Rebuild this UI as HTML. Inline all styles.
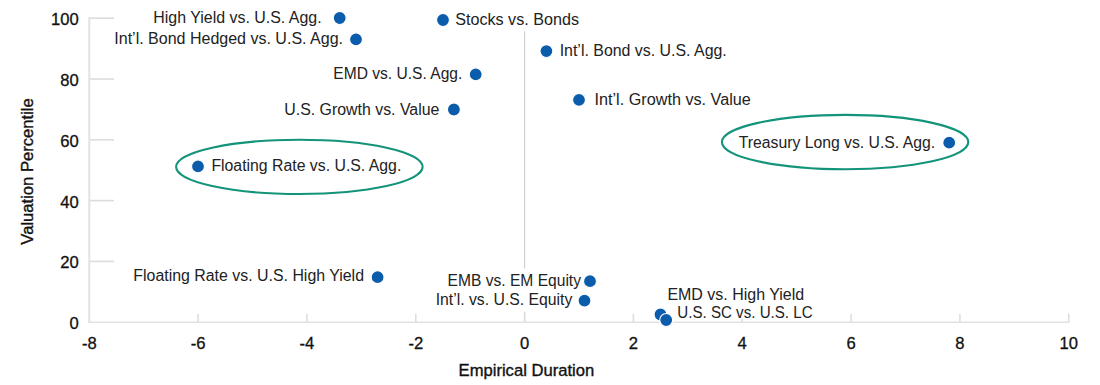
<!DOCTYPE html>
<html><head><meta charset="utf-8"><style>
html,body{margin:0;padding:0;background:#fff;width:1100px;height:385px;overflow:hidden}
svg{display:block}
text{font-family:"Liberation Sans",sans-serif}
</style></head><body>
<svg width="1100" height="385" viewBox="0 0 1100 385">

<line x1="524.6" y1="31.2" x2="524.6" y2="268.6" stroke="#d0d0d2" stroke-width="1.2"/>
<line x1="524.6" y1="311.8" x2="524.6" y2="322.2" stroke="#d0d0d2" stroke-width="1.2"/>
<line x1="89.3" y1="261.4" x2="114" y2="261.4" stroke="#dcdcdf" stroke-width="1.6"/>
<line x1="89.3" y1="200.6" x2="114" y2="200.6" stroke="#dcdcdf" stroke-width="1.6"/>
<line x1="89.3" y1="139.8" x2="114" y2="139.8" stroke="#dcdcdf" stroke-width="1.6"/>
<line x1="89.3" y1="79.0" x2="114" y2="79.0" stroke="#dcdcdf" stroke-width="1.6"/>
<line x1="89.3" y1="18.2" x2="114" y2="18.2" stroke="#dcdcdf" stroke-width="1.6"/>
<line x1="198.1" y1="322.2" x2="198.1" y2="313.8" stroke="#dcdcdf" stroke-width="1.5"/>
<line x1="306.9" y1="322.2" x2="306.9" y2="313.8" stroke="#dcdcdf" stroke-width="1.5"/>
<line x1="415.8" y1="322.2" x2="415.8" y2="313.8" stroke="#dcdcdf" stroke-width="1.5"/>
<line x1="524.6" y1="322.2" x2="524.6" y2="313.8" stroke="#dcdcdf" stroke-width="1.5"/>
<line x1="633.4" y1="322.2" x2="633.4" y2="313.8" stroke="#dcdcdf" stroke-width="1.5"/>
<line x1="742.2" y1="322.2" x2="742.2" y2="318.7" stroke="#dcdcdf" stroke-width="1.5"/>
<line x1="851.1" y1="322.2" x2="851.1" y2="313.8" stroke="#dcdcdf" stroke-width="1.5"/>
<line x1="959.9" y1="322.2" x2="959.9" y2="313.8" stroke="#dcdcdf" stroke-width="1.5"/>
<line x1="1068.7" y1="322.2" x2="1068.7" y2="313.8" stroke="#dcdcdf" stroke-width="1.5"/>
<line x1="89.3" y1="17.3" x2="89.3" y2="323.09999999999997" stroke="#e2e2e5" stroke-width="2"/>
<line x1="88.39999999999999" y1="322.3" x2="1069.6000000000001" y2="322.3" stroke="#e2e2e5" stroke-width="1.6"/>
<text id="l0" x="153.30" y="22.95" font-size="16" fill="#222222" textLength="168.30" lengthAdjust="spacingAndGlyphs">High Yield vs. U.S. Agg.</text>
<text id="l1" x="455.20" y="24.75" font-size="16" fill="#222222" textLength="123.80" lengthAdjust="spacingAndGlyphs">Stocks vs. Bonds</text>
<text id="l2" x="114.30" y="43.85" font-size="16" fill="#222222" textLength="228.70" lengthAdjust="spacingAndGlyphs">Int’l. Bond Hedged vs. U.S. Agg.</text>
<text id="l3" x="559.70" y="56.25" font-size="16" fill="#222222" textLength="167.10" lengthAdjust="spacingAndGlyphs">Int’l. Bond vs. U.S. Agg.</text>
<text id="l4" x="333.30" y="78.85" font-size="16" fill="#222222" textLength="129.00" lengthAdjust="spacingAndGlyphs">EMD vs. U.S. Agg.</text>
<text id="l5" x="594.50" y="104.65" font-size="16" fill="#222222" textLength="156.30" lengthAdjust="spacingAndGlyphs">Int’l. Growth vs. Value</text>
<text id="l6" x="284.30" y="114.85" font-size="16" fill="#222222" textLength="155.10" lengthAdjust="spacingAndGlyphs">U.S. Growth vs. Value</text>
<text id="l7" x="738.80" y="147.75" font-size="16" fill="#222222" textLength="196.30" lengthAdjust="spacingAndGlyphs">Treasury Long vs. U.S. Agg.</text>
<text id="l8" x="211.40" y="171.15" font-size="16" fill="#222222" textLength="189.90" lengthAdjust="spacingAndGlyphs">Floating Rate vs. U.S. Agg.</text>
<text id="l9" x="133.30" y="281.25" font-size="16" fill="#222222" textLength="230.70" lengthAdjust="spacingAndGlyphs">Floating Rate vs. U.S. High Yield</text>
<text id="l10" x="447.60" y="285.75" font-size="16" fill="#222222" textLength="133.40" lengthAdjust="spacingAndGlyphs">EMB vs. EM Equity</text>
<text id="l11" x="435.70" y="305.35" font-size="16" fill="#222222" textLength="136.70" lengthAdjust="spacingAndGlyphs">Int’l. vs. U.S. Equity</text>
<text id="l12" x="667.40" y="299.85" font-size="16" fill="#222222" textLength="136.70" lengthAdjust="spacingAndGlyphs">EMD vs. High Yield</text>
<text id="l13" x="677.30" y="317.55" font-size="16" fill="#222222" textLength="135.30" lengthAdjust="spacingAndGlyphs">U.S. SC vs. U.S. LC</text>
<circle cx="339.7" cy="18.0" r="6.45" fill="#0b5dab" stroke="#fff" stroke-width="1.1"/>
<circle cx="443.0" cy="20.0" r="6.45" fill="#0b5dab" stroke="#fff" stroke-width="1.1"/>
<circle cx="356.0" cy="39.3" r="6.45" fill="#0b5dab" stroke="#fff" stroke-width="1.1"/>
<circle cx="546.4" cy="51.1" r="6.45" fill="#0b5dab" stroke="#fff" stroke-width="1.1"/>
<circle cx="475.7" cy="74.3" r="6.45" fill="#0b5dab" stroke="#fff" stroke-width="1.1"/>
<circle cx="579.0" cy="99.9" r="6.45" fill="#0b5dab" stroke="#fff" stroke-width="1.1"/>
<circle cx="453.9" cy="109.5" r="6.45" fill="#0b5dab" stroke="#fff" stroke-width="1.1"/>
<circle cx="949.2" cy="142.7" r="6.45" fill="#0b5dab" stroke="#fff" stroke-width="1.1"/>
<circle cx="198.0" cy="166.3" r="6.45" fill="#0b5dab" stroke="#fff" stroke-width="1.1"/>
<circle cx="377.6" cy="277.2" r="6.45" fill="#0b5dab" stroke="#fff" stroke-width="1.1"/>
<circle cx="590.0" cy="281.2" r="6.45" fill="#0b5dab" stroke="#fff" stroke-width="1.1"/>
<circle cx="584.5" cy="300.6" r="6.45" fill="#0b5dab" stroke="#fff" stroke-width="1.1"/>
<circle cx="660.5" cy="314.5" r="6.45" fill="#0b5dab" stroke="#fff" stroke-width="1.1"/>
<circle cx="666.2" cy="320.0" r="6.45" fill="#0b5dab" stroke="#fff" stroke-width="1.1"/>
<ellipse cx="845.1" cy="142.1" rx="123.2" ry="27.2" fill="none" stroke="#13947a" stroke-width="2.1"/>
<ellipse cx="299.35" cy="166.85" rx="123.25" ry="27.15" fill="none" stroke="#13947a" stroke-width="2.1"/>
<text id="y0" x="78.8" y="329.1" font-size="16.6" fill="#111111" text-anchor="end" stroke="#111111" stroke-width="0.3">0</text>
<text id="y20" x="78.8" y="268.3" font-size="16.6" fill="#111111" text-anchor="end" stroke="#111111" stroke-width="0.3">20</text>
<text id="y40" x="78.8" y="207.5" font-size="16.6" fill="#111111" text-anchor="end" stroke="#111111" stroke-width="0.3">40</text>
<text id="y60" x="78.8" y="146.7" font-size="16.6" fill="#111111" text-anchor="end" stroke="#111111" stroke-width="0.3">60</text>
<text id="y80" x="78.8" y="85.9" font-size="16.6" fill="#111111" text-anchor="end" stroke="#111111" stroke-width="0.3">80</text>
<text id="y100" x="78.8" y="25.1" font-size="16.6" fill="#111111" text-anchor="end" stroke="#111111" stroke-width="0.3">100</text>
<text id="x-8" x="89.3" y="348.6" font-size="16.6" fill="#111111" text-anchor="middle" stroke="#111111" stroke-width="0.3">-8</text>
<text id="x-6" x="198.1" y="348.6" font-size="16.6" fill="#111111" text-anchor="middle" stroke="#111111" stroke-width="0.3">-6</text>
<text id="x-4" x="306.9" y="348.6" font-size="16.6" fill="#111111" text-anchor="middle" stroke="#111111" stroke-width="0.3">-4</text>
<text id="x-2" x="415.8" y="348.6" font-size="16.6" fill="#111111" text-anchor="middle" stroke="#111111" stroke-width="0.3">-2</text>
<text id="x0" x="524.6" y="348.6" font-size="16.6" fill="#111111" text-anchor="middle" stroke="#111111" stroke-width="0.3">0</text>
<text id="x2" x="633.4" y="348.6" font-size="16.6" fill="#111111" text-anchor="middle" stroke="#111111" stroke-width="0.3">2</text>
<text id="x4" x="742.2" y="348.6" font-size="16.6" fill="#111111" text-anchor="middle" stroke="#111111" stroke-width="0.3">4</text>
<text id="x6" x="851.1" y="348.6" font-size="16.6" fill="#111111" text-anchor="middle" stroke="#111111" stroke-width="0.3">6</text>
<text id="x8" x="959.9" y="348.6" font-size="16.6" fill="#111111" text-anchor="middle" stroke="#111111" stroke-width="0.3">8</text>
<text id="x10" x="1068.7" y="348.6" font-size="16.6" fill="#111111" text-anchor="middle" stroke="#111111" stroke-width="0.3">10</text>
<text id="tx" x="458.60" y="376.2" font-size="16.3" fill="#111111" stroke="#111111" stroke-width="0.35" textLength="135.60" lengthAdjust="spacingAndGlyphs">Empirical Duration</text>
<text id="ty" transform="translate(33.1,244.70) rotate(-90)" x="0" y="0" font-size="16.5" fill="#111111" stroke="#111111" stroke-width="0.35" textLength="146.50" lengthAdjust="spacingAndGlyphs">Valuation Percentile</text>
</svg></body></html>
